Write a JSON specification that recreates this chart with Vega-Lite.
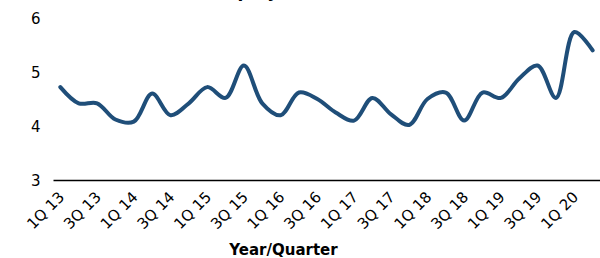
{
  "$schema": "https://vega.github.io/schema/vega-lite/v6.json",
  "autosize": "none",
  "width": 547,
  "height": 162,
  "padding": {"left": 53, "top": 18, "right": 0, "bottom": 78},
  "title": {"text": "Unemployment Rate", "fontSize": 17, "font": "DejaVu Sans", "fontWeight": "bold", "color": "#000000", "offset": 10, "anchor": "start", "dx": 158},
  "config": {"view": {"stroke": null}},
  "data": {"values": [
    {"q": "1Q 13", "rate": 4.72},
    {"q": "2Q 13", "rate": 4.42},
    {"q": "3Q 13", "rate": 4.42},
    {"q": "4Q 13", "rate": 4.12},
    {"q": "1Q 14", "rate": 4.08},
    {"q": "2Q 14", "rate": 4.6},
    {"q": "3Q 14", "rate": 4.2},
    {"q": "4Q 14", "rate": 4.42},
    {"q": "1Q 15", "rate": 4.72},
    {"q": "2Q 15", "rate": 4.52},
    {"q": "3Q 15", "rate": 5.12},
    {"q": "4Q 15", "rate": 4.42},
    {"q": "1Q 16", "rate": 4.2},
    {"q": "2Q 16", "rate": 4.62},
    {"q": "3Q 16", "rate": 4.5},
    {"q": "4Q 16", "rate": 4.25},
    {"q": "1Q 17", "rate": 4.1},
    {"q": "2Q 17", "rate": 4.52},
    {"q": "3Q 17", "rate": 4.22},
    {"q": "4Q 17", "rate": 4.02},
    {"q": "1Q 18", "rate": 4.5},
    {"q": "2Q 18", "rate": 4.62},
    {"q": "3Q 18", "rate": 4.1},
    {"q": "4Q 18", "rate": 4.62},
    {"q": "1Q 19", "rate": 4.52},
    {"q": "2Q 19", "rate": 4.88},
    {"q": "3Q 19", "rate": 5.12},
    {"q": "4Q 19", "rate": 4.52},
    {"q": "1Q 20", "rate": 5.74},
    {"q": "2Q 20", "rate": 5.4}
  ]},
  "mark": {"type": "line", "interpolate": "catmull-rom", "color": "#1F4E79", "strokeWidth": 4, "strokeCap": "round"},
  "encoding": {
    "x": {
      "field": "q", "type": "ordinal", "sort": null,
      "scale": {"type": "point", "padding": 0.4},
      "axis": {
        "title": "Year/Quarter",
        "titleFont": "DejaVu Sans", "titleFontSize": 15, "titleFontWeight": "bold", "titleColor": "#000000",
        "titleX": 230, "titleY": 74, "titleBaseline": "alphabetic",
        "values": ["1Q 13", "3Q 13", "1Q 14", "3Q 14", "1Q 15", "3Q 15", "1Q 16", "3Q 16", "1Q 17", "3Q 17", "1Q 18", "3Q 18", "1Q 19", "3Q 19", "1Q 20"],
        "labelAngle": -45, "labelAlign": "right", "labelBaseline": "top",
        "labelFont": "DejaVu Sans", "labelFontSize": 15, "labelColor": "#000000", "labelPadding": 9, "labelOffset": -4,
        "ticks": false, "domainColor": "#000000", "domainWidth": 1.5, "grid": false
      }
    },
    "y": {
      "field": "rate", "type": "quantitative",
      "scale": {"domain": [3, 6], "nice": false, "zero": false},
      "axis": {
        "title": null, "values": [3, 4, 5, 6],
        "labelFont": "DejaVu Sans", "labelFontSize": 15, "labelColor": "#000000", "labelPadding": 13,
        "ticks": false, "domain": false, "grid": false
      }
    }
  }
}
